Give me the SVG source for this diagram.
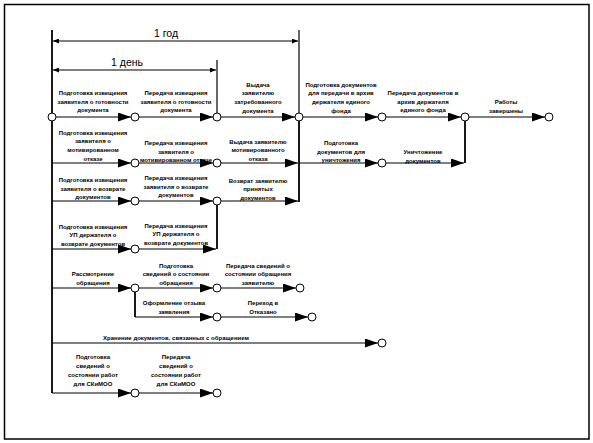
<svg xmlns="http://www.w3.org/2000/svg" width="593" height="443" viewBox="0 0 593 443">
<style>
.lbl{font-family:"Liberation Sans",Arial,sans-serif;font-size:6px;font-weight:bold;text-anchor:middle;fill:#000}
.tl{font-family:"Liberation Sans",Arial,sans-serif;font-size:10.5px;text-anchor:middle;fill:#000}
.ln{stroke:#000;stroke-width:1.2;fill:none}
.vl{stroke:#000;stroke-width:1.8;fill:none}
.nd{fill:#fff;stroke:#000;stroke-width:1}
</style>
<defs>
<marker id="ah" markerWidth="14" markerHeight="10" refX="13" refY="4.5" orient="auto" markerUnits="userSpaceOnUse"><path d="M0,0L13,4.5L0,9z" fill="#000"/></marker>
<marker id="sa" markerWidth="7" markerHeight="5" refX="6" refY="2.5" orient="auto-start-reverse" markerUnits="userSpaceOnUse"><path d="M0,0L6,2.5L0,5z" fill="#000"/></marker>
</defs>
<rect x="4.5" y="4.5" width="584.5" height="434.5" fill="#fff" stroke="#000" stroke-width="1.5"/>
<g id="timeline">
<line class="ln" x1="299" y1="30" x2="299" y2="113"/>
<line class="ln" x1="217" y1="60" x2="217" y2="113"/>
<line class="ln" x1="53" y1="41" x2="298" y2="41" marker-start="url(#sa)" marker-end="url(#sa)"/>
<line class="ln" x1="53" y1="70" x2="216" y2="70" marker-start="url(#sa)" marker-end="url(#sa)"/>
<text class="tl" x="166" y="37">1 год</text>
<text class="tl" x="127" y="66">1 день</text>
</g>
<g id="connectors">
<line class="vl" x1="52" y1="30" x2="52" y2="393"/>
<line class="vl" x1="299" y1="121" x2="299" y2="202"/>
<line class="vl" x1="217" y1="205" x2="217" y2="249"/>
<line class="vl" x1="465" y1="121" x2="465" y2="163"/>
<line class="vl" x1="135" y1="292" x2="135" y2="317"/>
<!-- row 1 -->
<line class="ln" x1="56" y1="117" x2="131" y2="117" marker-end="url(#ah)"/>
<line class="ln" x1="139" y1="117" x2="213" y2="117" marker-end="url(#ah)"/>
<line class="ln" x1="221" y1="117" x2="295" y2="117" marker-end="url(#ah)"/>
<line class="ln" x1="303" y1="117" x2="378" y2="117" marker-end="url(#ah)"/>
<line class="ln" x1="386" y1="117" x2="461" y2="117" marker-end="url(#ah)"/>
<line class="ln" x1="469" y1="117" x2="545" y2="117" marker-end="url(#ah)"/>
<!-- row 2 -->
<line class="ln" x1="52" y1="163" x2="131" y2="163" marker-end="url(#ah)"/>
<line class="ln" x1="139" y1="163" x2="213" y2="163" marker-end="url(#ah)"/>
<line class="ln" x1="221" y1="163" x2="298" y2="163" marker-end="url(#ah)"/>
<line class="ln" x1="299" y1="163" x2="378" y2="163" marker-end="url(#ah)"/>
<line class="ln" x1="386" y1="163" x2="464" y2="163" marker-end="url(#ah)"/>
<!-- row 3 -->
<line class="ln" x1="52" y1="201" x2="131" y2="201" marker-end="url(#ah)"/>
<line class="ln" x1="139" y1="201" x2="213" y2="201" marker-end="url(#ah)"/>
<line class="ln" x1="221" y1="201" x2="298" y2="201" marker-end="url(#ah)"/>
<!-- row 4 -->
<line class="ln" x1="52" y1="249" x2="131" y2="249" marker-end="url(#ah)"/>
<line class="ln" x1="139" y1="249" x2="216" y2="249" marker-end="url(#ah)"/>
<!-- row 5 -->
<line class="ln" x1="52" y1="288" x2="131" y2="288" marker-end="url(#ah)"/>
<line class="ln" x1="139" y1="288" x2="213" y2="288" marker-end="url(#ah)"/>
<line class="ln" x1="221" y1="288" x2="296" y2="288" marker-end="url(#ah)"/>
<!-- row 5b -->
<line class="ln" x1="135" y1="317" x2="213" y2="317" marker-end="url(#ah)"/>
<line class="ln" x1="221" y1="317" x2="308" y2="317" marker-end="url(#ah)"/>
<!-- row 6 -->
<line class="ln" x1="52" y1="343" x2="378" y2="343" marker-end="url(#ah)"/>
<!-- row 7 -->
<line class="ln" x1="52" y1="393" x2="131" y2="393" marker-end="url(#ah)"/>
<line class="ln" x1="139" y1="393" x2="213" y2="393" marker-end="url(#ah)"/>
</g>
<g id="labels">
<text class="lbl" x="93" y="95"><tspan x="93">Подготовка извещения</tspan><tspan x="93" dy="8.7">заявителя о готовности</tspan><tspan x="93" dy="8.7">документа</tspan></text>
<text class="lbl" x="176" y="95"><tspan x="176">Передача извещения</tspan><tspan x="176" dy="8.7">заявителя о готовности</tspan><tspan x="176" dy="8.7">документа</tspan></text>
<text class="lbl" x="258" y="86.5"><tspan x="258">Выдача</tspan><tspan x="258" dy="8.7">заявителю</tspan><tspan x="258" dy="8.7">затребованного</tspan><tspan x="258" dy="8.7">документа</tspan></text>
<text class="lbl" x="341" y="86.5"><tspan x="341">Подготовка документов</tspan><tspan x="341" dy="8.7">для передачи в архив</tspan><tspan x="341" dy="8.7">держателя единого</tspan><tspan x="341" dy="8.7">фонда</tspan></text>
<text class="lbl" x="423" y="95"><tspan x="423">Передача документов в</tspan><tspan x="423" dy="8.7">архив держателя</tspan><tspan x="423" dy="8.7">единого фонда</tspan></text>
<text class="lbl" x="506" y="104"><tspan x="506">Работы</tspan><tspan x="506" dy="8.7">завершены</tspan></text>

<text class="lbl" x="93" y="134.5"><tspan x="93">Подготовка извещения</tspan><tspan x="93" dy="8.7">заявителя о</tspan><tspan x="93" dy="8.7">мотивированном</tspan><tspan x="93" dy="8.7">отказе</tspan></text>
<text class="lbl" x="176" y="145"><tspan x="176">Передача извещения</tspan><tspan x="176" dy="8.7">заявителя о</tspan><tspan x="176" dy="8.7">мотивированном отказе</tspan></text>
<text class="lbl" x="258" y="143.5"><tspan x="258">Выдача заявителю</tspan><tspan x="258" dy="8.7">мотивированного</tspan><tspan x="258" dy="8.7">отказа</tspan></text>
<text class="lbl" x="341" y="145"><tspan x="341">Подготовка</tspan><tspan x="341" dy="8.7">документов для</tspan><tspan x="341" dy="8.7">уничтожения</tspan></text>
<text class="lbl" x="423" y="153.8"><tspan x="423">Уничтожение</tspan><tspan x="423" dy="8.7">документов</tspan></text>

<text class="lbl" x="93" y="182"><tspan x="93">Подготовка извещения</tspan><tspan x="93" dy="8.7">заявителя о возврате</tspan><tspan x="93" dy="8.7">документов</tspan></text>
<text class="lbl" x="176" y="180"><tspan x="176">Передача извещения</tspan><tspan x="176" dy="8.7">заявителя о возврате</tspan><tspan x="176" dy="8.7">документов</tspan></text>
<text class="lbl" x="258" y="182.5"><tspan x="258">Возврат заявителю</tspan><tspan x="258" dy="8.7">принятых</tspan><tspan x="258" dy="8.7">документов</tspan></text>

<text class="lbl" x="93" y="228.5"><tspan x="93">Подготовка извещения</tspan><tspan x="93" dy="8.7">УП держателя о</tspan><tspan x="93" dy="8.7">возврате документов</tspan></text>
<text class="lbl" x="176" y="227.5"><tspan x="176">Передача извещения</tspan><tspan x="176" dy="8.7">УП держателя о</tspan><tspan x="176" dy="8.7">возврате документов</tspan></text>

<text class="lbl" x="93" y="276.3"><tspan x="93">Рассмотрение</tspan><tspan x="93" dy="8.7">обращения</tspan></text>
<text class="lbl" x="176" y="267.6"><tspan x="176">Подготовка</tspan><tspan x="176" dy="8.7">сведений о состоянии</tspan><tspan x="176" dy="8.7">обращения</tspan></text>
<text class="lbl" x="258" y="267.6"><tspan x="258">Передача сведений о</tspan><tspan x="258" dy="8.7">состоянии обращения</tspan><tspan x="258" dy="8.7">заявителю</tspan></text>

<text class="lbl" x="174" y="305.3"><tspan x="174">Оформление отзыва</tspan><tspan x="174" dy="8.7">заявления</tspan></text>
<text class="lbl" x="263" y="305.3"><tspan x="263">Переход в</tspan><tspan x="263" dy="8.7">Отказано</tspan></text>

<text class="lbl" x="176" y="340">Хранение документов, связанных с обращением</text>

<text class="lbl" x="93" y="359.4"><tspan x="93">Подготовка</tspan><tspan x="93" dy="8.7">сведений о</tspan><tspan x="93" dy="8.7">состоянии работ</tspan><tspan x="93" dy="8.7">для СКиМОО</tspan></text>
<text class="lbl" x="176" y="359.4"><tspan x="176">Передача</tspan><tspan x="176" dy="8.7">сведений о</tspan><tspan x="176" dy="8.7">состоянии работ</tspan><tspan x="176" dy="8.7">для СКиМОО</tspan></text>
</g>
<g id="n1_0"><circle class="nd" cx="52" cy="117" r="4"/></g>
<g id="n1_1"><circle class="nd" cx="135" cy="117" r="4"/></g>
<g id="n1_2"><circle class="nd" cx="217" cy="117" r="4"/></g>
<g id="n1_3"><circle class="nd" cx="299" cy="117" r="4"/></g>
<g id="n1_4"><circle class="nd" cx="382" cy="117" r="4"/></g>
<g id="n1_5"><circle class="nd" cx="465" cy="117" r="4"/></g>
<g id="n1_6"><circle class="nd" cx="549" cy="117" r="4"/></g>
<g id="n2_1"><circle class="nd" cx="135" cy="163" r="4"/></g>
<g id="n2_2"><circle class="nd" cx="217" cy="163" r="4"/></g>
<g id="n2_4"><circle class="nd" cx="382" cy="163" r="4"/></g>
<g id="n3_1"><circle class="nd" cx="135" cy="201" r="4"/></g>
<g id="n3_2"><circle class="nd" cx="217" cy="201" r="4"/></g>
<g id="n4_1"><circle class="nd" cx="135" cy="249" r="4"/></g>
<g id="n5_1"><circle class="nd" cx="135" cy="288" r="4"/></g>
<g id="n5_2"><circle class="nd" cx="217" cy="288" r="4"/></g>
<g id="n5_3"><circle class="nd" cx="300" cy="288" r="4"/></g>
<g id="n6_2"><circle class="nd" cx="217" cy="317" r="4"/></g>
<g id="n6_3"><circle class="nd" cx="312" cy="317" r="4"/></g>
<g id="n7_4"><circle class="nd" cx="382" cy="343" r="4"/></g>
<g id="n8_1"><circle class="nd" cx="135" cy="393" r="4"/></g>
<g id="n8_2"><circle class="nd" cx="217" cy="393" r="4"/></g>
</svg>
